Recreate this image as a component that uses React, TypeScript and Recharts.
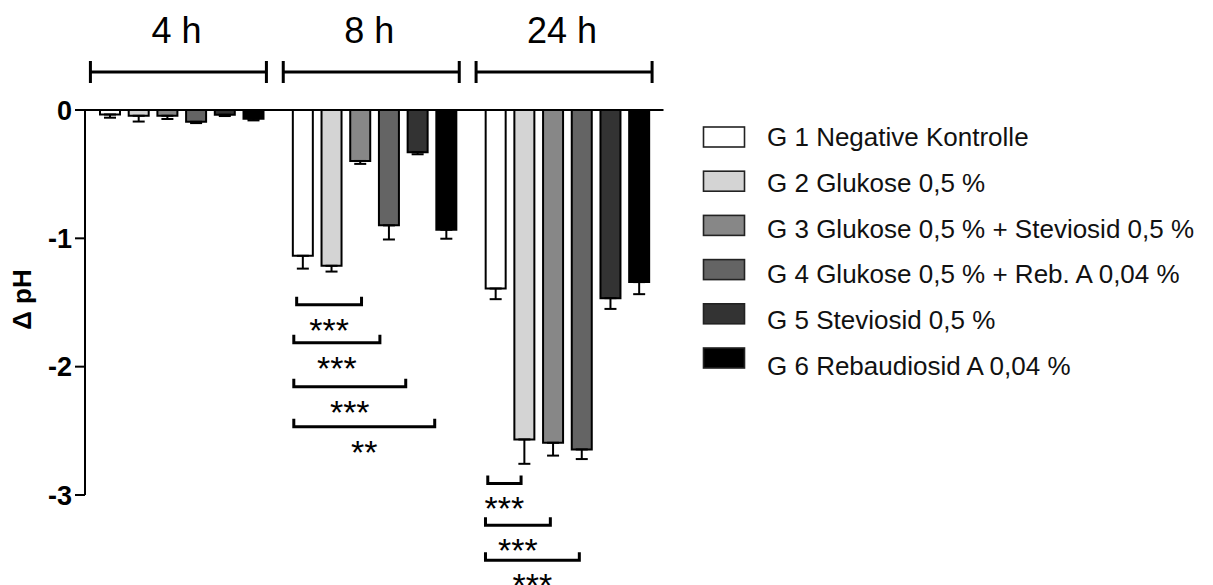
import React from 'react';
import { BarChart, Bar, XAxis, YAxis, ErrorBar, ReferenceLine, Legend } from 'recharts';

const times = ['4 h', '8 h', '24 h'];

const groupNames = [
  'G 1 Negative Kontrolle',
  'G 2 Glukose 0,5 %',
  'G 3 Glukose 0,5 % + Steviosid 0,5 %',
  'G 4 Glukose 0,5 % + Reb. A 0,04 %',
  'G 5 Steviosid 0,5 %',
  'G 6 Rebaudiosid A 0,04 %',
];
const groupFills = ['#ffffff', '#d4d4d4', '#878787', '#646464', '#333333', '#000000'];

// mean ΔpH per time point (4 h, 8 h, 24 h)
const g1Mean = [-0.035, -1.136, -1.391];
const g2Mean = [-0.045, -1.214, -2.567];
const g3Mean = [-0.045, -0.397, -2.593];
const g4Mean = [-0.092, -0.899, -2.645];
const g5Mean = [-0.037, -0.329, -1.466];
const g6Mean = [-0.069, -0.933, -1.341];

// standard deviation, drawn only away from zero
const g1Sd = [0.025, 0.1, 0.083];
const g2Sd = [0.045, 0.045, 0.19];
const g3Sd = [0.025, 0.023, 0.1];
const g4Sd = [0.01, 0.11, 0.075];
const g5Sd = [0.01, 0.016, 0.084];
const g6Sd = [0.012, 0.07, 0.094];

const yTicks = [0, -1, -2, -3];

// significance brackets: time point, span in bar units (0 = centre of G 1), level in ΔpH
const sigTime = ['8 h', '8 h', '8 h', '8 h', '24 h', '24 h', '24 h'];
const sigFrom = [-0.18, -0.28, -0.28, -0.28, -0.24, -0.32, -0.32];
const sigTo = [2.08, 2.72, 3.62, 4.63, 0.92, 1.94, 2.95];
const sigLevel = [-1.518, -1.813, -2.156, -2.468, -2.91, -3.236, -3.509];
const sigStars = ['***', '***', '***', '**', '***', '***', '***'];

const means = [g1Mean, g2Mean, g3Mean, g4Mean, g5Mean, g6Mean];
const sds = [g1Sd, g2Sd, g3Sd, g4Sd, g5Sd, g6Sd];

const data = times.map((time, t) => {
  const row: Record<string, any> = { time };
  means.forEach((m, g) => {
    row[`g${g + 1}`] = m[t];
    row[`g${g + 1}Err`] = [sds[g][t], 0];
  });
  return row;
});

// layout
const W = 1213;
const H = 585;
const AXIS_W = 85;
const PLOT_TOP = 110;
const PLOT_BOTTOM = 495;
const PLOT_RIGHT = 663.5;
const BAR_SIZE = 20;
const BAR_GAP = 8.7;
const FONT = '"Liberation Sans", Arial, Helvetica, sans-serif';

const band = (PLOT_RIGHT - AXIS_W) / times.length;
const pitch = BAR_SIZE + BAR_GAP;
const groupOffset = Math.floor((band - (groupNames.length * BAR_SIZE + (groupNames.length - 1) * BAR_GAP)) / 2);

const barX = (time: string, s: number) =>
  AXIS_W + times.indexOf(time) * band + groupOffset + BAR_SIZE / 2 + s * pitch;
const valueY = (v: number) => PLOT_TOP + (-v / 3) * (PLOT_BOTTOM - PLOT_TOP);

const TimeTick = (props: any) => {
  const { x, payload } = props;
  return (
    <g>
      <text x={x - 5} y={43} textAnchor="middle" fontSize={36} fill="#000">
        {payload.value}
      </text>
      <path
        d={`M${x - 91} 61 V83 M${x - 91} 72 H${x + 85} M${x + 85} 61 V83`}
        stroke="#000"
        strokeWidth={3}
        fill="none"
      />
    </g>
  );
};

const YLabel = (props: any) => {
  const vb = props.viewBox || {};
  const cy = (vb.y ?? PLOT_TOP) + (vb.height ?? PLOT_BOTTOM - PLOT_TOP) / 2 - 3;
  return (
    <text
      x={31}
      y={cy}
      transform={`rotate(-90 31 ${cy})`}
      textAnchor="middle"
      fontSize={26}
      fontWeight="bold"
      fill="#000"
    >
      Δ pH
    </text>
  );
};

const renderLegend = () => (
  <svg width={510} height={275} style={{ display: 'block' }}>
    {groupNames.map((name, i) => (
      <g key={name}>
        <rect
          x={3.5}
          y={7 + i * 44.2}
          width={41}
          height={20}
          fill={groupFills[i]}
          stroke="#222"
          strokeWidth={1.6}
        />
        <text x={67} y={17 + i * 45.8 + 9} fontSize={26} fill="#111">
          {name}
        </text>
      </g>
    ))}
  </svg>
);

const App: React.FC = () => {
  return (
    <div
      style={{
        position: 'absolute',
        left: 0,
        top: 0,
        width: W,
        height: H,
        background: '#fff',
        fontFamily: FONT,
      }}
    >
      <BarChart
        width={W}
        height={H}
        data={data}
        barGap={BAR_GAP}
        margin={{ top: 0, right: W - PLOT_RIGHT, bottom: H - PLOT_BOTTOM, left: 0 }}
      >
        <XAxis
          dataKey="time"
          orientation="top"
          height={PLOT_TOP}
          axisLine={false}
          tickLine={false}
          interval={0}
          tick={<TimeTick />}
        />
        <YAxis
          width={AXIS_W}
          domain={[-3, 0]}
          ticks={yTicks}
          interval={0}
          axisLine={{ stroke: '#000', strokeWidth: 2 }}
          tickLine={{ stroke: '#000', strokeWidth: 2 }}
          tickSize={10}
          tickMargin={3}
          tick={{ fontSize: 27, fontWeight: 'bold', fill: '#000' }}
          label={<YLabel />}
        />
        {groupNames.map((name, g) => (
          <Bar
            key={name}
            dataKey={`g${g + 1}`}
            name={name}
            fill={groupFills[g]}
            stroke="#000"
            strokeWidth={2}
            barSize={BAR_SIZE}
            isAnimationActive={false}
          >
            <ErrorBar
              dataKey={`g${g + 1}Err`}
              direction="y"
              width={6}
              stroke="#000"
              strokeWidth={2}
              isAnimationActive={false}
            />
          </Bar>
        ))}
        <ReferenceLine y={0} stroke="#000" strokeWidth={2} />
        <Legend
          layout="vertical"
          align="center"
          verticalAlign="middle"
          content={renderLegend}
          wrapperStyle={{ left: 700, top: 120, width: 510, height: 275 }}
        />
      </BarChart>
      <svg
        width={W}
        height={H}
        style={{ position: 'absolute', left: 0, top: 0, pointerEvents: 'none' }}
      >
        {sigTime.map((time, i) => {
          const x1 = barX(time, sigFrom[i]);
          const x2 = barX(time, sigTo[i]);
          const y = valueY(sigLevel[i]);
          return (
            <g key={i}>
              <path
                d={`M${x1} ${y - 8} V${y} H${x2} V${y - 8}`}
                stroke="#000"
                strokeWidth={3}
                fill="none"
              />
              <text x={(x1 + x2) / 2} y={y + 37} textAnchor="middle" fontSize={34} fill="#000">
                {sigStars[i]}
              </text>
            </g>
          );
        })}
      </svg>
    </div>
  );
};

export default App;
